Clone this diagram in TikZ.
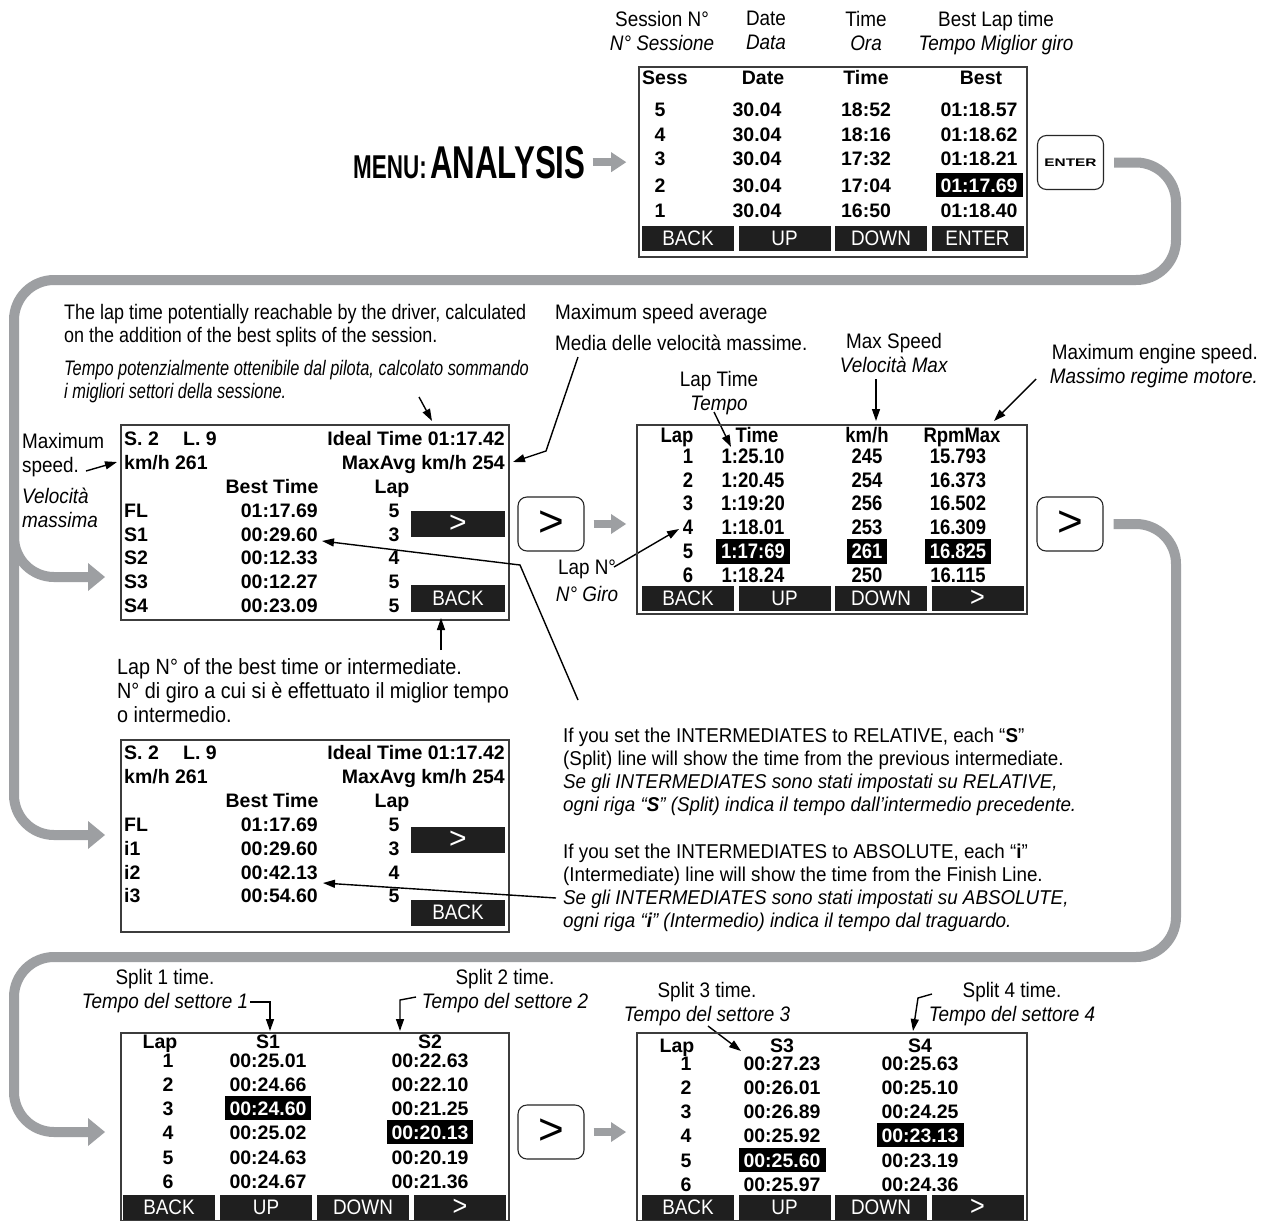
\documentclass[tikz,border=0pt]{standalone}
\usepackage{fontspec}
\setmainfont{Liberation Sans}
\newfontfamily\notefont[FakeStretch=0.9]{Liberation Sans}
\newfontfamily\leadfont[FakeStretch=0.855]{Liberation Sans}
\newfontfamily\thinfont[FakeStretch=0.78]{Liberation Sans}
\newfontfamily\bodyfont[FakeStretch=0.94]{Liberation Sans}
\newfontfamily\narrowfont[FakeStretch=0.88]{Liberation Sans}
\newfontfamily\menufont[FakeStretch=0.68]{Liberation Sans}
\newfontfamily\keyfont[FakeStretch=1.4]{Liberation Sans}
\usetikzlibrary{arrows.meta,positioning}
\definecolor{pipegrey}{RGB}{157,159,162}
\definecolor{framegrey}{RGB}{60,60,60}
\newcommand{\hlcell}[1]{{\setlength{\fboxsep}{5pt}\colorbox{black}{\textcolor{white}{#1}}}}
\newcommand{\nextsym}{{\fontsize{28}{28}\selectfont >}}

\tikzset{
  note/.style={font=\notefont\fontsize{21}{24}\selectfont, inner sep=0pt},
  cell/.style={font=\bfseries\fontsize{19.5}{22}\selectfont, inner sep=0pt, text height=14pt, text depth=0pt},
  ncell/.style={font=\narrowfont\bfseries\fontsize{21}{23}\selectfont, inner sep=0pt, text height=15pt, text depth=0pt},
  screen/.style={draw=framegrey, line width=1.6pt, inner sep=0pt},
  btn/.style={fill=black!88, text=white, font=\notefont\fontsize{21}{22}\selectfont, minimum width=92pt, minimum height=25pt, inner sep=0pt},
  keycap/.style={draw=black!85, line width=1.1pt, rounded corners=9pt, minimum width=66pt, minimum height=54pt, inner sep=0pt},
  pipe/.style={draw=pipegrey, line width=10pt, rounded corners=40pt},
  pipetip/.style={-{Triangle[width=28pt,length=17pt,line width=0pt]}},
  hop/.style={draw=pipegrey, line width=8pt, -{Triangle[width=20pt,length=15pt,line width=0pt]}},
  pointer/.style={draw=black, line width=1.4pt, -{Triangle[width=8pt,length=12pt]}}
}

\begin{document}
\begin{tikzpicture}[x=1pt, y=-1pt, >=Stealth]
    \fill[white] (0,0) rectangle (1273,1220);
    \useasboundingbox (0,0) rectangle (1273,1220);

    % menu title and session list
    \node[anchor=base west, font=\menufont\bfseries\fontsize{33}{33}\selectfont, inner sep=0pt] (menu) at (353,178) {MENU:};
    \node[anchor=base west, font=\menufont\bfseries\fontsize{46}{46}\selectfont, inner sep=0pt] (analysis) at (430,178) {ANALYSIS};

    \node[note, align=center, anchor=north] (lsess) at (662,11) {Session N°\\\textit{N° Sessione}};
    \node[note, align=center, anchor=north] (ldate) at (766,11) {Date\\\textit{Data}};
    \node[note, align=center, anchor=north] (ltime) at (866,11) {Time\\\textit{Ora}};
    \node[note, align=center, anchor=north] (lbest) at (996,11) {Best Lap time\\\textit{Tempo Miglior giro}};

    \node[screen, minimum width=388pt, minimum height=190pt] (sessions) at (833,162) {};
    \node[cell, anchor=west] (hsess) at (642,78) {Sess};
    \node[cell] (hdate) at (763,78) {Date};
    \node[cell] (htime) at (866,78) {Time};
    \node[cell] (hbest) at (981,78) {Best};
    \foreach \rowy/\sess/\dte/\tme/\bst [count=\i] in {110/5/30.04/18:52/01:18.57, 134/4/30.04/18:16/01:18.62, 158/3/30.04/17:32/01:18.21, 185/2/30.04/17:04/\hlcell{01:17.69}, 210/1/30.04/16:50/01:18.40} {
        \node[cell] (sn\i) at (660,\rowy) {\sess};
        \node[cell] (sd\i) at (757,\rowy) {\dte};
        \node[cell] (st\i) at (866,\rowy) {\tme};
        \node[cell] (sb\i) at (979,\rowy) {\bst};
    }
    \foreach \lbl [count=\k] in {BACK,UP,DOWN,ENTER}
        \node[btn] (sbtn\k) at ({688+96.5*(\k-1)},238.5) {\lbl};

    \draw[hop] ([xshift=7pt]analysis.east) -- ([xshift=-12pt]sessions.west |- analysis.east);
    \node[keycap, font=\keyfont\bfseries\fontsize{11}{12}\selectfont] (enterkey) at (1070.5,162.5) {ENTER};

    % grey pipe from ENTER down the left side
    \draw[pipe, pipetip] ([xshift=10pt]enterkey.east) -| (1176,280) -- (14,280) -- (14,835) -- (105,835);
    \draw[pipe, pipetip] (14,500) -- (14,577) -- (105,577);

    % session detail, relative splits
    \node[note, anchor=north west, align=left, font=\leadfont\fontsize{21}{23}\selectfont] (idealnote) at (64,304) {The lap time potentially reachable by the driver, calculated\\on the addition of the best splits of the session.};
    \node[note, anchor=north west, align=left, font=\thinfont\itshape\fontsize{21}{23}\selectfont] (idealnote2) at (64,360) {Tempo potenzialmente ottenibile dal pilota, calcolato sommando\\i migliori settori della sessione.};
    \draw[pointer] (419,397) -- (432,421);

    \node[note, anchor=base west] (avgnote) at (555,319.5) {Maximum speed average};
    \node[note, anchor=base west] (avgnote2) at (555,350.5) {Media delle velocità massime.};
    \draw[pointer] (578,357) -- (546,451) -- (513,462);

    \node[note, anchor=north west, align=left] (maxnote) at (22,433) {Maximum\\speed.};
    \node[note, anchor=north west, align=left, font=\notefont\itshape\fontsize{21}{24}\selectfont] (maxnote2) at (22,488) {Velocità\\massima};
    \draw[pointer] (86,471) -- (117,462);

    \node[screen, minimum width=388pt, minimum height=195pt] (detail) at (315,522.5) {};
    \node[cell, anchor=west] (dses) at (124,438) {S. 2};
    \node[cell, anchor=west] (dlap) at (183,438) {L. 9};
    \node[cell, anchor=east] (dideal) at (505,438) {Ideal Time 01:17.42};
    \node[cell, anchor=west] (dspeed) at (124,462) {km/h 261};
    \node[cell, anchor=east] (davg) at (505,462) {MaxAvg km/h 254};
    \node[cell] (dbest) at (272,486) {Best Time};
    \node[cell] (dlaph) at (392,486) {Lap};
    \foreach \rowy/\lbl/\tme/\lp [count=\i] in {510/FL/01:17.69/5, 534/S1/00:29.60/3, 557/S2/00:12.33/4, 581/S3/00:12.27/5, 605/S4/00:23.09/5} {
        \node[cell, anchor=west] (dl\i) at (124,\rowy) {\lbl};
        \node[cell, anchor=east] (dt\i) at (318,\rowy) {\tme};
        \node[cell] (dn\i) at (394,\rowy) {\lp};
    }
    \node[btn, minimum width=94pt, minimum height=26pt, font=\fontsize{30}{30}\selectfont] (dnext) at (458,524) {>};
    \node[btn, minimum width=94pt, minimum height=27pt] (dback) at (458,598.5) {BACK};

    \node[note, anchor=north west, align=left, font=\notefont\fontsize{22}{24}\selectfont] (lapnote) at (117,658) {Lap N° of the best time or intermediate.\\N° di giro a cui si è effettuato il miglior tempo\\o intermedio.};
    \draw[pointer] (441,650) -- (441,618);

    % session detail, absolute intermediates
    \node[screen, minimum width=388pt, minimum height=192pt] (absdetail) at (315,836) {};
    \node[cell, anchor=west] (ases) at (124,752) {S. 2};
    \node[cell, anchor=west] (alap) at (183,752) {L. 9};
    \node[cell, anchor=east] (aideal) at (505,752) {Ideal Time 01:17.42};
    \node[cell, anchor=west] (aspeed) at (124,776) {km/h 261};
    \node[cell, anchor=east] (aavg) at (505,776) {MaxAvg km/h 254};
    \node[cell] (abest) at (272,800) {Best Time};
    \node[cell] (alaph) at (392,800) {Lap};
    \foreach \rowy/\lbl/\tme/\lp [count=\i] in {824/FL/01:17.69/5, 848/i1/00:29.60/3, 872/i2/00:42.13/4, 895/i3/00:54.60/5} {
        \node[cell, anchor=west] (al\i) at (124,\rowy) {\lbl};
        \node[cell, anchor=east] (at\i) at (318,\rowy) {\tme};
        \node[cell] (an\i) at (394,\rowy) {\lp};
    }
    \node[btn, minimum width=94pt, minimum height=26pt, font=\fontsize{30}{30}\selectfont] (anext) at (458,839.5) {>};
    \node[btn, minimum width=94pt, minimum height=26pt] (aback) at (458,912.5) {BACK};

    \node[anchor=north west, align=left, font=\bodyfont\fontsize{20}{23}\selectfont, inner sep=0pt] (relnote) at (563,728) {If you set the INTERMEDIATES to RELATIVE, each “\textbf{S}”\\(Split) line will show the time from the previous intermediate.\\\textit{Se gli INTERMEDIATES sono stati impostati su RELATIVE,}\\\textit{ogni riga “\textbf{S}” (Split) indica il tempo dall’intermedio precedente.}};
    \node[anchor=north west, align=left, font=\bodyfont\fontsize{20}{23}\selectfont, inner sep=0pt] (absnote) at (563,844) {If you set the INTERMEDIATES to ABSOLUTE, each “\textbf{i}”\\(Intermediate) line will show the time from the Finish Line.\\\textit{Se gli INTERMEDIATES sono stati impostati su ABSOLUTE,}\\\textit{ogni riga “\textbf{i}” (Intermedio) indica il tempo dal traguardo.}};
    \draw[pointer] (578,700) -- (520,565) -- (322,541);
    \draw[pointer] (556,898) -- (323,883);

    % lap list
    \node[keycap, font=\fontsize{44}{44}\selectfont] (key1) at (551,524) {>};
    \draw[hop] ([xshift=9pt]key1.east) -- ([xshift=-11pt]key1.east -| 637,0);

    \node[note, align=center, anchor=north] (laptimenote) at (719,371) {Lap Time\\\textit{Tempo}};
    \draw[pointer] (714,412) -- (731,447);
    \node[note, align=center, anchor=north] (maxspnote) at (894,333) {Max Speed\\\textit{Velocità Max}};
    \draw[pointer] (876,379) -- (876,421);
    \node[note, align=right, anchor=north east] (rpmnote) at (1258,344) {Maximum engine speed.\\\textit{Massimo regime motore.}};
    \draw[pointer] (1036,379) -- (994,421);
    \node[note, align=center, anchor=north] (lapnonote) at (587,560) {Lap N°\\[3pt]\textit{N° Giro}};
    \draw[pointer] (614,567) -- (679,529);

    \node[screen, minimum width=390pt, minimum height=189pt] (laps) at (832,519.5) {};
    \node[ncell] (lhlap) at (677,435) {Lap};
    \node[ncell] (lhtime) at (757,435) {Time};
    \node[ncell] (lhspd) at (867,435) {km/h};
    \node[ncell] (lhrpm) at (962,435) {RpmMax};
    \foreach \rowy/\lp/\tme/\spd/\rpm [count=\i] in {456/1/1:25.10/245/15.793, 479.5/2/1:20.45/254/16.373, 503/3/1:19:20/256/16.502, 527/4/1:18.01/253/16.309, 551/5/\hlcell{1:17:69}/\hlcell{261}/\hlcell{16.825}, 575/6/1:18.24/250/16.115} {
        \node[ncell] (ln\i) at (688,\rowy) {\lp};
        \node[ncell] (lt\i) at (753,\rowy) {\tme};
        \node[ncell] (ls\i) at (867,\rowy) {\spd};
        \node[ncell] (lr\i) at (958,\rowy) {\rpm};
    }
    \foreach \lbl [count=\k] in {BACK,UP,DOWN,\nextsym}
        \node[btn] (lbtn\k) at ({688+96.5*(\k-1)},598.5) {\lbl};

    \node[keycap, font=\fontsize{44}{44}\selectfont] (key2) at (1070,524) {>};
    \draw[pipe, pipetip] ([xshift=10pt]key2.east) -| (1176,957) -- (14,957) -- (14,1132) -- (105,1132);

    % split tables
    \node[note, align=center, anchor=north] (split1) at (165,969) {Split 1 time.\\\textit{Tempo del settore 1}};
    \draw[pointer] (250,1002) -- (270,1002) -- (270,1031);
    \node[note, align=center, anchor=north] (split2) at (505,969) {Split 2 time.\\\textit{Tempo del settore 2}};
    \draw[pointer] (416,997) -- (400,1000) -- (400,1031);

    \node[screen, minimum width=388pt, minimum height=188pt] (splitsa) at (315,1127) {};
    \node[cell] (ahlap) at (160,1041) {Lap};
    \node[cell] (ahs1) at (268,1041) {S1};
    \node[cell] (ahs2) at (430,1041) {S2};
    \foreach \rowy/\lp/\sa/\sb [count=\i] in {1060/1/00:25.01/00:22.63, 1084/2/00:24.66/00:22.10, 1108/3/\hlcell{00:24.60}/00:21.25, 1132/4/00:25.02/\hlcell{00:20.13}, 1157/5/00:24.63/00:20.19, 1181/6/00:24.67/00:21.36} {
        \node[cell] (pn\i) at (168,\rowy) {\lp};
        \node[cell] (pa\i) at (268,\rowy) {\sa};
        \node[cell] (pb\i) at (430,\rowy) {\sb};
    }
    \foreach \lbl [count=\k] in {BACK,UP,DOWN,\nextsym}
        \node[btn] (pbtn\k) at ({169+97*(\k-1)},1207.5) {\lbl};

    \node[keycap, font=\fontsize{44}{44}\selectfont] (key3) at (551,1132) {>};
    \draw[hop] ([xshift=9pt]key3.east) -- ([xshift=-11pt]key3.east -| 637,0);

    \node[note, align=center, anchor=north] (split3) at (707,982) {Split 3 time.\\\textit{Tempo del settore 3}};
    \draw[pointer] (708,1026) -- (741,1051);
    \node[note, align=center, anchor=north] (split4) at (1012,982) {Split 4 time.\\\textit{Tempo del settore 4}};
    \draw[pointer] (932,994) -- (918,998) -- (913,1031);

    \node[screen, minimum width=390pt, minimum height=188pt] (splitsb) at (832,1127) {};
    \node[cell] (bhlap) at (677,1045) {Lap};
    \node[cell] (bhs3) at (782,1045) {S3};
    \node[cell] (bhs4) at (920,1045) {S4};
    \foreach \rowy/\lp/\sa/\sb [count=\i] in {1063/1/00:27.23/00:25.63, 1087/2/00:26.01/00:25.10, 1111/3/00:26.89/00:24.25, 1135/4/00:25.92/\hlcell{00:23.13}, 1160/5/\hlcell{00:25.60}/00:23.19, 1184/6/00:25.97/00:24.36} {
        \node[cell] (qn\i) at (686,\rowy) {\lp};
        \node[cell] (qa\i) at (782,\rowy) {\sa};
        \node[cell] (qb\i) at (920,\rowy) {\sb};
    }
    \foreach \lbl [count=\k] in {BACK,UP,DOWN,\nextsym}
        \node[btn] (qbtn\k) at ({688+96.5*(\k-1)},1207.5) {\lbl};
\end{tikzpicture}
\end{document}
